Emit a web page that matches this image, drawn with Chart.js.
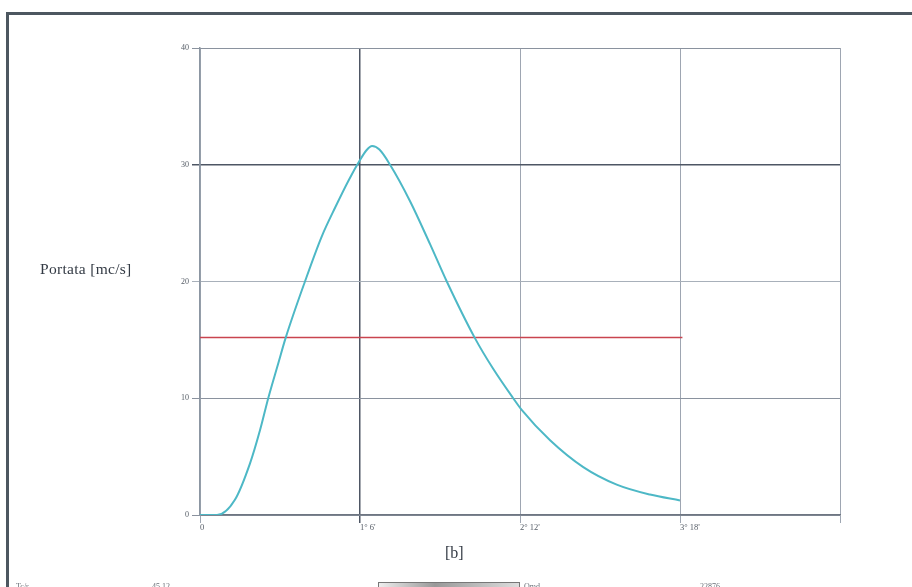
<!DOCTYPE html>
<html>
<head>
<meta charset="utf-8">
<script src="https://cdn.jsdelivr.net/npm/chart.js@4"></script>
<style>
  html, body { margin:0; padding:0; background:#fff; }
  body { width:912px; height:587px; position:relative; overflow:hidden; font-family:"Liberation Serif", "DejaVu Serif", serif; }
  #frame { position:absolute; left:6px; top:12px; width:920px; height:600px; border-left:3px solid #4d5760; border-top:3px solid #4d5760; }
  #wrap { position:absolute; left:0; top:0; width:912px; height:587px; }
  .lbl { position:absolute; color:#333a44; white-space:nowrap; }
  #ylab { left:40px; top:260px; font-size:15.5px; letter-spacing:0.3px; }
  #xlab { left:445px; top:544px; font-size:16px; }
  #foot { position:absolute; left:0; top:582px; width:912px; font-size:8px; color:#6a7078; }
  #foot span { position:absolute; }
  #foot .box { position:absolute; left:378px; top:0; width:140px; height:10px; border:1px solid #777; background:linear-gradient(90deg,#eee,#999 40%,#ddd); }
</style>
</head>
<body>
<div id="frame"></div>
<div id="wrap"><canvas id="hydro" width="912" height="587"></canvas></div>
<div class="lbl" id="ylab">Portata [mc/s]</div>
<div class="lbl" id="xlab">[b]</div>
<div id="foot">
  <span style="left:16px">Tc/r</span>
  <span style="left:152px">45.12</span>
  <div class="box"></div>
  <span style="left:524px">Qmd</span>
  <span style="left:700px">22876</span>
</div>
<script>
// ---- 數據 (tempo in minuti, portata in mc/s) ----
const tempo   = [0, 7, 14.4, 20.6, 24.8, 28.2, 32.3, 35.3, 43.3, 50.2, 55.9, 61.4, 66, 68.5, 71, 74, 78.4, 86.6, 94.9, 101.8, 113.4, 121, 129.2, 132.7, 144.4, 158.1, 171.9, 185.6, 198];
const portata = [0, 0, 1.3, 4.4, 7.3, 10.05, 13, 15.15, 20, 23.85, 26.4, 28.7, 30.4, 31.2, 31.6, 31.3, 30.0, 26.9, 23.2, 20, 15.15, 12.5, 10.0, 9.0, 6.4, 4.1, 2.6, 1.75, 1.25];
const sogliaX = [0, 199];
const sogliaY = [15.2, 15.2];
const xTicks  = [0, 66, 132, 198, 264];
const yTicks  = [0, 10, 20, 30, 40];

function fmtTempo(v) {
  if (v === 0) return '0';
  if (v >= 264) return '';
  return Math.floor(v / 60) + '° ' + (v % 60) + "'";
}

const curve = tempo.map((t, i) => ({x:t, y:portata[i]}));
const soglia = sogliaX.map((t, i) => ({x:t, y:sogliaY[i]}));

new Chart(document.getElementById('hydro'), {
  type:'line',
  data:{
    datasets:[
      {data:curve, borderColor:'#4db8c6', borderWidth:2, pointRadius:0, cubicInterpolationMode:'monotone', fill:false},
      {data:soglia, borderColor:'#c9444f', borderWidth:1.5, pointRadius:0, fill:false}
    ]
  },
  options:{
    responsive:false,
    animation:false,
    layout:{padding:{left:0, top:48, right:72, bottom:0}},
    plugins:{legend:{display:false}, tooltip:{enabled:false}},
    scales:{
      x:{
        type:'linear', min:0, max:264,
        afterBuildTicks:s => { s.ticks = xTicks.map(v => ({value:v})); },
        afterFit:s => { s.height = 72; },
        border:{color:'#6e7682', width:1.5},
        grid:{
          color:c => c.tick && c.tick.value === 66 ? '#4e5664' : '#9ea6b2',
          lineWidth:c => c.tick && c.tick.value === 66 ? 1.5 : 1,
          tickLength:8
        },
        ticks:{
          align:'start', padding:0, color:'#555c66',
          font:{family:'Liberation Serif', size:8.5},
          callback:v => fmtTempo(v)
        }
      },
      y:{
        min:0, max:40,
        afterBuildTicks:s => { s.ticks = yTicks.map(v => ({value:v})); },
        afterFit:s => { s.width = 200; },
        border:{color:'#8c96a2', width:1.5},
        grid:{
          color:c => c.tick && c.tick.value === 30 ? '#4e5664' : (c.tick && c.tick.value === 20 ? '#a8b0ba' : '#8a929e'),
          lineWidth:c => c.tick && c.tick.value === 30 ? 1.5 : 1,
          tickLength:8
        },
        ticks:{
          padding:3, color:'#555c66',
          font:{family:'Liberation Serif', size:8}
        }
      }
    }
  }
});
</script>
</body>
</html>
